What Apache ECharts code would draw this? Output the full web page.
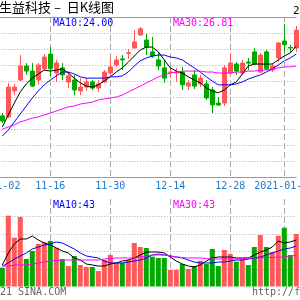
<!DOCTYPE html>
<html><head><meta charset="utf-8">
<script src="https://cdn.jsdelivr.net/npm/echarts@6/dist/echarts.min.js"></script>
<style>html,body{margin:0;padding:0;background:#fff}#c{width:300px;height:300px}</style>
</head><body><div id="c"></div>
<script>
// trading days (first two are left of the visible candles)
const dates = ['2020-11-02','2020-11-03','2020-11-04','2020-11-05','2020-11-06','2020-11-09','2020-11-10','2020-11-11','2020-11-12','2020-11-13',
'2020-11-16','2020-11-17','2020-11-18','2020-11-19','2020-11-20','2020-11-23','2020-11-24','2020-11-25','2020-11-26','2020-11-27',
'2020-11-30','2020-12-01','2020-12-02','2020-12-03','2020-12-04','2020-12-07','2020-12-08','2020-12-09','2020-12-10','2020-12-11',
'2020-12-14','2020-12-15','2020-12-16','2020-12-17','2020-12-18','2020-12-21','2020-12-22','2020-12-23','2020-12-24','2020-12-25',
'2020-12-28','2020-12-29','2020-12-30','2020-12-31','2021-01-04','2021-01-05','2021-01-06','2021-01-07','2021-01-08','2021-01-11',
'2021-01-12','2021-01-13'];
const labelDates = ['2020-11-02','2020-11-16','2020-11-30','2020-12-14','2020-12-28','2021-01-11'];

const openArr = [24.91,24.88,25.69,26.03,26.47,26.31,26.03,26.38,26.84,26.25,
26.41,25.97,26.03,25.69,25.81,25.97,25.78,25.97,26.25,26.50,
26.69,26.86,27.03,27.44,27.28,26.91,26.66,26.41,26.27,26.25,
26.28,25.84,26.19,25.91,25.91,25.72,25.31,25.31,26.25,26.53,
26.25,26.59,26.91,26.28,26.91,26.34,26.72,27.25,27.05,27.03];
const closeArr = [24.75,25.81,25.81,26.47,26.31,25.84,26.50,26.75,26.38,26.56,
26.19,26.16,25.72,25.81,25.97,25.78,25.91,26.28,26.44,26.66,
26.66,26.88,27.22,27.63,27.06,26.78,26.47,26.09,26.28,26.28,
25.88,25.94,25.84,26.09,25.47,25.25,25.25,26.41,26.56,26.31,
26.56,26.56,26.53,26.81,26.38,26.47,27.19,27.13,27.03,27.59];
const lowArr = [24.69,24.84,25.56,26.00,26.19,25.81,25.88,26.34,26.13,25.97,
26.03,25.78,25.56,25.56,25.69,25.72,25.66,25.94,26.19,26.44,
26.34,26.69,27.03,27.41,26.81,26.72,26.34,25.94,26.09,25.97,
25.72,25.72,25.75,25.81,25.41,25.00,25.22,25.22,26.19,26.19,
26.19,26.34,26.50,26.25,26.34,26.28,26.59,26.88,26.88,26.91];
const highArr = [25.00,25.94,25.91,26.81,26.56,26.56,26.56,26.84,27.06,26.66,
26.56,26.28,26.19,26.09,26.09,26.03,26.03,26.34,26.75,26.78,
26.81,27.00,27.59,27.69,27.47,27.38,26.88,26.66,26.41,26.41,
26.44,26.03,26.34,26.19,26.03,25.81,25.50,26.50,26.88,26.59,
26.66,26.72,27.03,26.88,26.97,26.56,27.22,27.78,27.13,27.72];

const ma5 = [24.56,24.94,25.31,25.66,25.91,26.09,26.22,26.34,26.31,26.34,
26.38,26.25,26.09,25.94,25.84,25.81,25.88,26.00,26.13,26.28,
26.41,26.59,26.78,26.97,27.06,27.06,26.91,26.66,26.41,26.31,
26.25,26.13,26.03,25.94,25.78,25.69,25.63,25.72,25.88,25.97,
26.22,26.47,26.53,26.53,26.53,26.53,26.66,26.78,26.88,27.09];
const ma10 = [24.28,24.47,24.72,24.97,25.22,25.47,25.69,25.88,26.03,26.16,
26.28,26.28,26.22,26.13,26.09,26.09,26.09,26.09,26.13,26.13,
26.16,26.28,26.47,26.63,26.72,26.78,26.81,26.81,26.75,26.72,
26.66,26.53,26.41,26.28,26.13,26.00,25.88,25.88,25.88,25.91,
25.97,26.06,26.13,26.19,26.28,26.38,26.50,26.63,26.72,26.84];
const ma30 = [24.50,24.56,24.63,24.72,24.78,24.84,24.88,24.94,25.00,25.06,
25.13,25.19,25.22,25.28,25.31,25.34,25.41,25.44,25.47,25.50,
25.56,25.66,25.75,25.84,25.94,26.03,26.13,26.19,26.25,26.28,
26.31,26.31,26.31,26.31,26.28,26.28,26.25,26.25,26.25,26.28,
26.28,26.31,26.31,26.34,26.34,26.38,26.41,26.44,26.44,26.47];

const volume = [21.5,80.9,55.8,79.4,31.4,40.6,48.6,50.5,52.0,44.3,
31.4,23.4,34.9,24.6,22.3,22.3,17.7,30.3,36.0,26.9,
26.9,30.3,49.7,45.1,44.0,34.1,32.6,32.6,18.9,18.9,
25.7,20.0,23.4,29.5,25.7,42.9,23.4,41.7,37.1,28.3,
31.4,24.6,45.1,58.9,45.1,39.4,58.1,67.2,36.0,60.0];
const vma5 = [24.6,38.3,48.6,54.3,54.3,57.7,53.1,49.7,47.4,44.0,
40.6,38.3,32.6,30.3,25.7,24.6,23.4,23.4,25.7,26.9,
29.1,30.3,32.6,36.0,39.4,39.4,39.4,38.3,33.7,29.1,
25.7,23.4,22.3,24.6,29.1,32.6,33.7,33.7,33.7,32.6,
32.6,32.6,36.0,39.4,41.7,45.1,52.0,49.7,50.9,53.1];
const vma10 = [23.4,26.9,31.4,34.9,38.3,42.9,45.1,47.4,48.6,50.9,
49.7,46.3,42.9,38.3,34.9,33.7,32.6,29.1,26.9,26.9,
26.9,28.0,29.1,30.3,32.6,36.0,37.1,36.0,34.9,33.7,
32.6,30.3,28.0,26.9,26.9,26.9,28.0,28.0,29.1,30.3,
30.3,31.4,32.6,33.7,36.0,38.3,40.6,42.9,44.0,46.3];
const vma30 = [23.4,23.4,24.6,24.6,24.6,25.7,26.9,28.0,29.1,29.7,
30.3,30.3,30.3,30.3,30.3,30.3,30.3,31.4,32.0,32.6,
32.6,32.6,32.6,33.7,34.9,36.0,36.0,36.0,34.9,33.7,
33.1,32.6,32.6,32.6,32.0,31.4,31.4,31.4,31.4,31.4,
32.0,32.6,32.6,32.6,33.1,33.1,33.7,33.7,34.9,35.4];

const UP = '#ff5858', DOWN = '#00a800';
const MONO = 'DejaVu Sans Mono';
const pad = a => ['-','-'].concat(a);
const candleData = [['-','-','-','-'],['-','-','-','-']].concat(openArr.map((o,i)=>[o, closeArr[i], lowArr[i], highArr[i]]));
const volData = pad(volume.map((v,i)=>({value:v, itemStyle:{color: closeArr[i] >= openArr[i] ? UP : DOWN}})));
const isLabel = (idx, val) => labelDates.indexOf(val) >= 0;

const chart = echarts.init(document.getElementById('c'), null, {width:300, height:300});
const dashed = {show:true, interval:isLabel, lineStyle:{color:'#aaaaaa', type:[6,3], width:1}};
const dotted = {show:true, showMinLine:false, showMaxLine:false, lineStyle:{color:'#aaaaaa', type:[1,2], width:1}};
const line = (data, color, xi, yi) => ({type:'line', data:pad(data), xAxisIndex:xi, yAxisIndex:yi, symbol:'none',
  lineStyle:{color:color, width:1}, itemStyle:{color:color}, silent:true});
const txt = (text, left, top, color, size, family) => ({text:text, left:left, top:top, padding:0,
  textStyle:{color:color, fontSize:size, fontWeight:'normal', fontFamily:family}});

chart.setOption({
  animation:false,
  backgroundColor:'#ffffff',
  title:[
    txt('生益科技 –  日K线图', -1, 1, '#000000', 13, 'Noto Sans CJK SC'),
    txt('2', 293, 6, '#000000', 11, MONO),
    txt('MA10:24.00', 53, 18, '#0000ff', 10, MONO),
    txt('MA30:26.81', 173, 18, '#ff00ff', 10, MONO),
    txt('MA10:43', 53, 200, '#0000ff', 10, MONO),
    txt('MA30:43', 173, 200, '#ff00ff', 10, MONO),
    txt('21 SINA.COM', 0, 287, '#666666', 10, MONO),
    txt('http://f', 252, 287, '#666666', 10, MONO)
  ],
  grid:[
    {left:-9.7, top:17, width:306, height:160, outerBoundsMode:'none', containLabel:false},
    {left:-9.7, top:199, width:306, height:87.5, outerBoundsMode:'none', containLabel:false}
  ],
  xAxis:[
    {type:'category', gridIndex:0, data:dates, boundaryGap:false,
      axisLine:{show:true, lineStyle:{color:'#999999', width:1}}, axisTick:{show:false},
      axisLabel:{show:true, interval:isLabel, alignMinLabel:'left', margin:4, color:'#1a7ad2', fontSize:10, fontFamily:MONO,
        formatter: v => v.indexOf('2021') === 0 ? v : v.slice(5)},
      splitLine:dashed},
    {type:'category', gridIndex:0, data:dates, boundaryGap:false, position:'top',
      axisLine:{show:true, lineStyle:{color:'#999999', width:1}}, axisTick:{show:false}, axisLabel:{show:false}, splitLine:{show:false}},
    {type:'category', gridIndex:1, data:dates, boundaryGap:false,
      axisLine:{show:false}, axisTick:{show:false}, axisLabel:{show:false}, splitLine:dashed}
  ],
  yAxis:[
    {type:'value', gridIndex:0, min:23, max:28, interval:0.5, axisLine:{show:false}, axisTick:{show:false}, axisLabel:{show:false}, splitLine:dotted},
    {type:'value', gridIndex:1, min:0, max:100, interval:20, axisLine:{show:false}, axisTick:{show:false}, axisLabel:{show:false}, splitLine:dotted}
  ],
  series:[
    {type:'candlestick', data:candleData, xAxisIndex:0, yAxisIndex:0, barWidth:4,
      itemStyle:{color:UP, color0:DOWN, borderColor:UP, borderColor0:DOWN, borderWidth:1}},
    line(ma5, '#000000', 0, 0),
    line(ma10, '#0000ff', 0, 0),
    line(ma30, '#ff00ff', 0, 0),
    {type:'bar', data:volData, xAxisIndex:2, yAxisIndex:1, barWidth:5},
    line(vma5, '#000000', 2, 1),
    line(vma10, '#0000ff', 2, 1),
    line(vma30, '#ff00ff', 2, 1)
  ]
});
</script></body></html>
